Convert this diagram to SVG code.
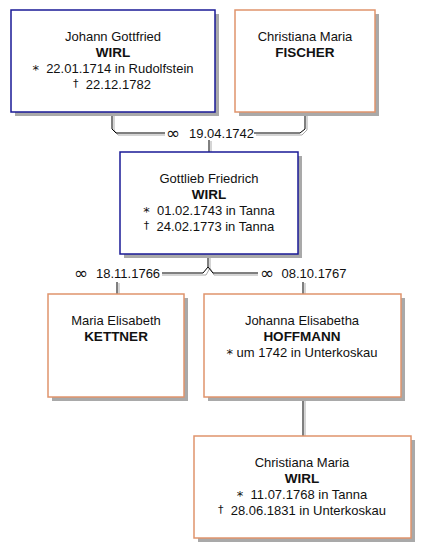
<svg xmlns="http://www.w3.org/2000/svg" width="430" height="558" viewBox="0 0 430 558" xml:space="preserve">
<style>
.sh{fill:#a9a9a9}
.m{fill:#fff;stroke:#1a1a96;stroke-width:1.5}
.f{fill:#fff;stroke:#e0946c;stroke-width:1.5}
text{font-family:"Liberation Sans",Arial,sans-serif;font-size:13px;fill:#111;text-anchor:middle;white-space:pre}
.b{font-weight:bold;font-size:13.5px}
.sym{font-family:"DejaVu Sans",sans-serif;font-size:13px;fill:#111}
.dg{font-family:"DejaVu Sans",sans-serif;font-size:11px;fill:#111}
.mar{font-family:"DejaVu Sans",sans-serif;font-size:17px;fill:#111}
.lbl{text-anchor:start}
.ln{fill:none;stroke:#000;stroke-width:1}
.lg{fill:none;stroke:#aaa;stroke-width:1}
</style>
<rect width="430" height="558" fill="#fff"/>
<g id="connectors">
<path class="lg" d="M114,114 V130 L118,135 H165 M256,135 H302 L307,130 V114 M211,141 V152 M210,256 V268 L214,275 H258 M210,268 L206,275 H162 M119,283 V294 M305,283 V294 M305,399 V436"/>
<path class="ln" d="M112,112 V129 L116,133 H165 M254,133 H300 L305,129 V112 M209,140 V152 M208,254 V267 L203,273 H162 M208,267 L213,273 H258 M117,282 V294 M303,282 V294 M303,397 V436"/>
<text class="lbl" x="166" y="138.5"><tspan class="mar">∞</tspan><tspan x="189" dy="-1">19.04.1742</tspan></text>
<text class="lbl" x="74" y="278.5"><tspan class="mar">∞</tspan><tspan x="96" dy="-1">18.11.1766</tspan></text>
<text class="lbl" x="260" y="278.5"><tspan class="mar">∞</tspan><tspan x="281.5" dy="-1">08.10.1767</tspan></text>
</g>
<g id="johann">
<rect class="sh" x="15" y="14" width="204" height="102"/>
<rect class="m" x="11" y="10" width="204" height="102"/>
<text x="113" y="41">Johann Gottfried</text>
<text class="b" x="113" y="57">WIRL</text>
<text x="113" y="73"><tspan class="sym" dy="1">*</tspan><tspan dy="-1">  22.01.1714 in Rudolfstein</tspan></text>
<text x="112" y="89"><tspan class="dg" dy="-2">†</tspan><tspan dy="2">  22.12.1782</tspan></text>
</g>
<g id="fischer">
<rect class="sh" x="239" y="14" width="140" height="102"/>
<rect class="f" x="235" y="10" width="140" height="102"/>
<text x="305" y="41">Christiana Maria</text>
<text class="b" x="305" y="57">FISCHER</text>
</g>
<g id="gottlieb">
<rect class="sh" x="124" y="156" width="178" height="102"/>
<rect class="m" x="120" y="152" width="178" height="102"/>
<text x="209" y="183">Gottlieb Friedrich</text>
<text class="b" x="209" y="199">WIRL</text>
<text x="209" y="215"><tspan class="sym" dy="1">*</tspan><tspan dy="-1">  01.02.1743 in Tanna</tspan></text>
<text x="209" y="231"><tspan class="dg" dy="-2">†</tspan><tspan dy="2">  24.02.1773 in Tanna</tspan></text>
</g>
<g id="kettner">
<rect class="sh" x="52" y="298" width="136" height="103"/>
<rect class="f" x="48" y="294" width="136" height="103"/>
<text x="116" y="325">Maria Elisabeth</text>
<text class="b" x="116" y="341">KETTNER</text>
</g>
<g id="hoffmann">
<rect class="sh" x="208" y="298" width="197" height="103"/>
<rect class="f" x="204" y="294" width="197" height="103"/>
<text x="302" y="325">Johanna Elisabetha</text>
<text class="b" x="302" y="341">HOFFMANN</text>
<text x="302" y="357"><tspan class="sym" dy="1">*</tspan><tspan dy="-1"> um 1742 in Unterkoskau</tspan></text>
</g>
<g id="christiana">
<rect class="sh" x="198" y="440" width="217" height="102"/>
<rect class="f" x="194" y="436" width="217" height="102"/>
<text x="302" y="467">Christiana Maria</text>
<text class="b" x="302" y="483">WIRL</text>
<text x="302" y="499"><tspan class="sym" dy="1">*</tspan><tspan dy="-1">  11.07.1768 in Tanna</tspan></text>
<text x="302" y="515"><tspan class="dg" dy="-2">†</tspan><tspan dy="2">  28.06.1831 in Unterkoskau</tspan></text>
</g>
</svg>
